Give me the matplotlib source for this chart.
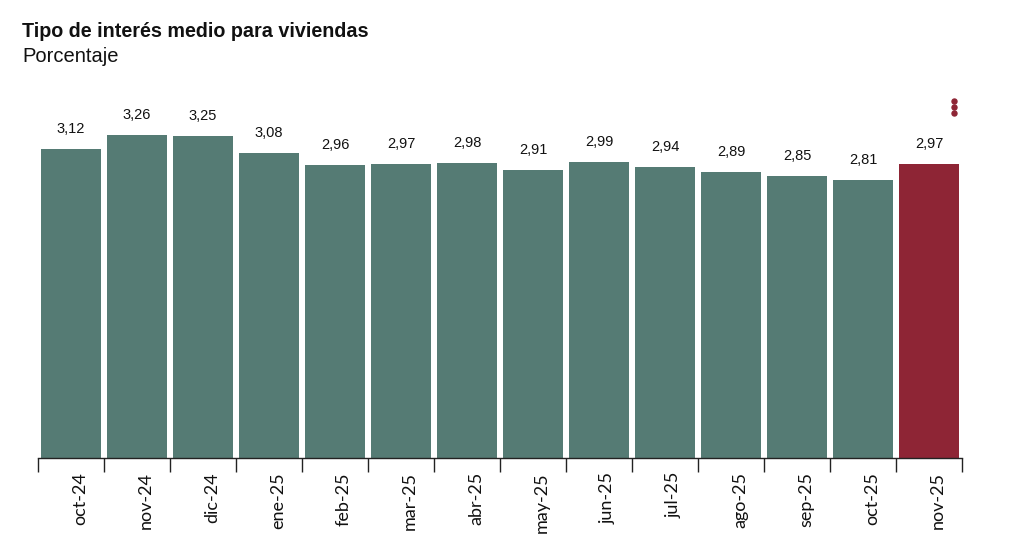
import matplotlib.pyplot as plt
from matplotlib.lines import Line2D
from matplotlib.transforms import offset_copy

# datos
meses = ['oct-24', 'nov-24', 'dic-24', 'ene-25', 'feb-25', 'mar-25', 'abr-25',
         'may-25', 'jun-25', 'jul-25', 'ago-25', 'sep-25', 'oct-25', 'nov-25']
tipos = [3.12, 3.26, 3.25, 3.08, 2.96, 2.97, 2.98, 2.91, 2.99, 2.94, 2.89, 2.85, 2.81, 2.97]

verde = '#557B74'
rojo = '#8E2535'
colores = [verde] * (len(tipos) - 1) + [rojo]

W, H = 1024, 550
fig = plt.figure(figsize=(W / 100, H / 100), dpi=100, facecolor='white')

# ejes en pixeles: x 38..962, base en y=458, 99 px por punto
x0, x1 = 38, 962
base = 458
top = 98
escala = 99
ax = fig.add_axes([x0 / W, 1 - base / H, (x1 - x0) / W, (base - top) / H])

n = len(tipos)
pos = list(range(n))
barras = ax.bar(pos, tipos, width=0.91, color=colores, edgecolor='none')

ax.set_xlim(-0.5, n - 0.5)
ax.set_ylim(0, (base - top) / escala)

for b, v in zip(barras, tipos):
    ax.annotate('{:.2f}'.format(v).replace('.', ','),
                (b.get_x() + b.get_width() / 2, v),
                xytext=(0, 9.5), textcoords='offset points',
                ha='center', va='bottom', fontsize=10.5,
                family='Liberation Sans', color='#111111')

for s in ['top', 'right', 'left']:
    ax.spines[s].set_visible(False)
ax.spines['bottom'].set_color('#222222')
ax.spines['bottom'].set_linewidth(1.0)
ax.set_yticks([])

# marcas en los limites de cada mes
ax.set_xticks([p - 0.5 for p in range(n + 1)])
ax.set_xticklabels([])
ax.tick_params(axis='x', direction='out', length=10, width=1.0, color='#222222')

# etiquetas giradas, algo desplazadas a la derecha
trans = offset_copy(ax.get_xaxis_transform(), fig=fig, x=9, y=-14, units='dots')
for p, m in zip(pos, meses):
    ax.text(p, 0, m, transform=trans, rotation=90, ha='center', va='top',
            fontsize=13, family='Lato', color='#111111')

fig.text(22 / W, 1 - 37 / H, 'Tipo de interés medio para viviendas',
         fontsize=14.2, fontweight='bold', family='Liberation Sans', color='#111111')
fig.text(22 / W, 1 - 62 / H, 'Porcentaje',
         fontsize=14.5, family='Liberation Sans', color='#111111')

# icono de menu (tres puntos)
for yy in [101, 107, 113]:
    fig.add_artist(Line2D([954 / W], [1 - yy / H], marker='o', markersize=3.6,
                          color=rojo, transform=fig.transFigure))

fig.savefig('out.png', dpi=100, facecolor='white')
